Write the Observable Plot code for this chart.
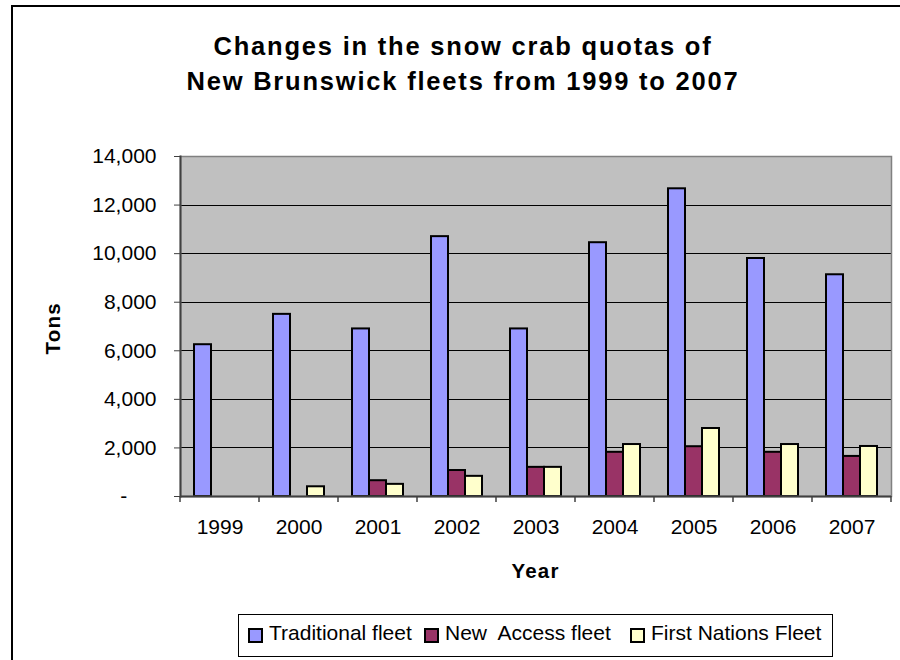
<!DOCTYPE html>
<html>
<head>
<meta charset="utf-8">
<script src="https://cdn.jsdelivr.net/npm/d3@7"></script>
<script src="https://cdn.jsdelivr.net/npm/@observablehq/plot@0.6"></script>
<style>
  body { margin: 0; background: #fff; font-family: "Liberation Sans", Arial, sans-serif; color: #000; }
  #wrap { position: relative; width: 900px; height: 660px; overflow: hidden; background: #fff; }
  #border { position: absolute; left: 11px; top: 5px; width: 1000px; height: 1000px; border: 2px solid #000; box-sizing: border-box; }
  #title { position: absolute; left: 0; top: 28.7px; width: 926px; text-align: center;
           font-weight: bold; font-size: 25.5px; line-height: 35px; letter-spacing: 1.8px; }
  #chart { position: absolute; left: 0; top: 0; }
  .axis-title { position: absolute; font-weight: bold; font-size: 20.5px; line-height: 20.5px;
                letter-spacing: 1.2px; text-align: center; white-space: nowrap; }
  #xtitle { left: 435.5px; top: 560.6px; width: 200px; }
  #ytitle { left: 3px; top: 317.75px; width: 100px; transform: rotate(-90deg); }
  #legend { position: absolute; left: 238px; top: 614px; width: 595px; height: 43px;
            border: 1px solid #000; box-sizing: border-box; background: #fff; }
  .item { position: absolute; top: 0; height: 100%; }
  .swatch { position: absolute; top: 13px; width: 15px; height: 15px; border: 2px solid #000; box-sizing: border-box; }
  .label { position: absolute; top: 7.2px; left: 21px; font-size: 21px; line-height: 21px; white-space: pre; }
</style>
</head>
<body>
<div id="wrap">
  <div id="border"></div>
  <div id="title">Changes in the snow crab quotas of<br>New Brunswick fleets from 1999 to 2007</div>
  <div id="chart"></div>
  <div id="xtitle" class="axis-title">Year</div>
  <div id="ytitle" class="axis-title">Tons</div>
  <div id="legend"></div>
</div>
<script>
// Snow crab quotas (tons) by fleet and year
const years = ["1999", "2000", "2001", "2002", "2003", "2004", "2005", "2006", "2007"];
const series = ["Traditional fleet", "New Access fleet", "First Nations Fleet"];
const traditional  = [6250, 7500, 6900, 10700, 6900, 10450, 12670, 9800, 9130];
const newAccess    = [null, null, 650, 1070, 1200, 1820, 2050, 1820, 1650];
const firstNations = [null, 400, 500, 830, 1200, 2140, 2800, 2140, 2060];
const colors = ["#9999FF", "#993366", "#FFFFCC"];
const yTicks = [0, 2000, 4000, 6000, 8000, 10000, 12000, 14000];
const legendLeft = [9, 185, 391]; // legend entry offsets inside the box

const columns = [traditional, newAccess, firstNations];
const rows = years.flatMap((year, i) =>
  series.map((s, j) => ({year, series: s, tons: columns[j][i]}))
);

const fmt = d3.format(",");
const axisColor = "#404040";

const chart = Plot.plot({
  width: 900,
  height: 600,
  marginLeft: 178,
  marginRight: 7,
  marginTop: 156,
  marginBottom: 104,
  style: {fontFamily: '"Liberation Sans", Arial, sans-serif', fontSize: "21px", background: "transparent", color: "#000", overflow: "visible"},
  fx: {domain: years, padding: 0, label: null},
  x: {domain: series, paddingInner: 0, paddingOuter: 0.7, axis: null},
  y: {domain: [0, 14000], label: null},
  color: {domain: series, range: colors},
  marks: [
    Plot.frame({facet: "super", fill: "#C0C0C0", stroke: "none"}),
    Plot.gridY({ticks: yTicks, stroke: "#000", strokeOpacity: 1, strokeWidth: 1, shapeRendering: "crispEdges"}),
    Plot.barY(rows, {fx: "year", x: "series", y: "tons", fill: "series", stroke: "#000", strokeWidth: 2}),
    Plot.frame({facet: "super", stroke: "#808080", strokeWidth: 1.5}),
    Plot.ruleY([0], {stroke: axisColor, strokeWidth: 2}),
    Plot.frame({facet: "super", anchor: "left", stroke: axisColor, strokeWidth: 2}),
    Plot.axisY({
      ticks: yTicks,
      tickFormat: d => d === 0 ? "-\u00a0\u00a0\u00a0\u00a0\u00a0" : fmt(d),
      tickSize: 6, tickPadding: 18, fontSize: 21, stroke: axisColor, label: null
    }),
    Plot.axisFx({anchor: "bottom", tickSize: 0, tickPadding: 23, fontSize: 21, label: null})
  ]
});

// Tick marks at the category boundaries along the year axis
const fxScale = chart.scale("fx");
const yScale = chart.scale("y");
const y0 = yScale.apply(0);
const edges = years.map(y => fxScale.apply(y)).concat(fxScale.apply(years[years.length - 1]) + fxScale.bandwidth);
d3.select(chart).append("g")
  .attr("stroke", axisColor).attr("stroke-width", 1.5)
  .selectAll("line").data(edges).join("line")
  .attr("x1", d => d).attr("x2", d => d)
  .attr("y1", y0).attr("y2", y0 + 6);

document.getElementById("chart").appendChild(chart);

// Legend
const legend = d3.select("#legend");
const items = legend.selectAll(".item").data(series).join("div")
  .attr("class", "item")
  .style("left", (d, i) => legendLeft[i] + "px");
items.append("div").attr("class", "swatch").style("background", (d, i) => colors[i]);
items.append("div").attr("class", "label").text(d => d === "New Access fleet" ? "New  Access fleet" : d);
</script>
</body>
</html>
